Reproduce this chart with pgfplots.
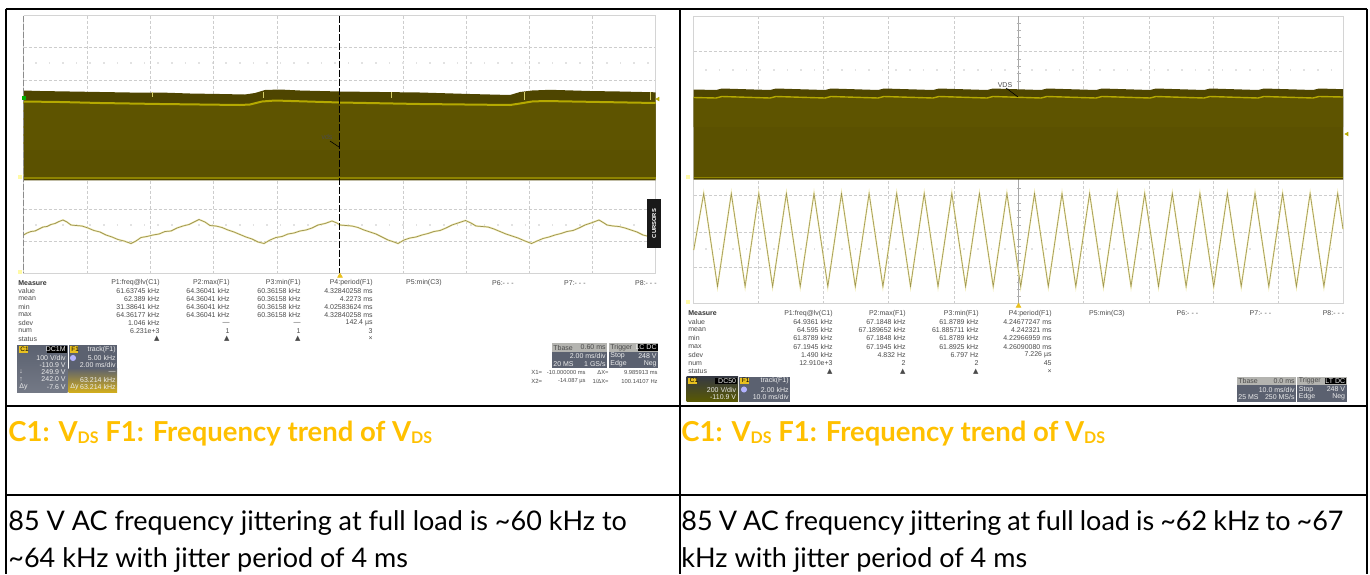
\documentclass[border=0pt]{standalone}
\usepackage{fontspec}
\usepackage{pgfplots}
\pgfplotsset{compat=1.18}
\setmainfont{Liberation Sans}
\newfontfamily\capfont{Lato}
\newfontfamily\symfont{DejaVu Sans}

\definecolor{bandtop}{HTML}{4E4500}
\definecolor{bandmid}{HTML}{5E5400}
\definecolor{bandlow}{HTML}{5B5100}
\definecolor{traceY}{HTML}{B5A900}
\definecolor{lowY}{HTML}{8F8400}
\definecolor{gridc}{HTML}{CDCDCD}
\definecolor{dotc}{HTML}{E2E2E2}
\definecolor{frame}{HTML}{D4D4D4}
\definecolor{capY}{HTML}{FFC000}
\definecolor{txt}{HTML}{4A4A4A}
\definecolor{boxb}{HTML}{5B6170}
\definecolor{boxl}{HTML}{B4B4B0}
\definecolor{tagY}{HTML}{E8C020}
\definecolor{halo}{HTML}{F0EBB4}
\definecolor{core}{HTML}{9C9350}

% one pixel of the reference is one axis unit
\newcommand{\rect}[5]{\addplot[draw=none,fill=#5] coordinates {(#1,#2)(#3,#2)(#3,#4)(#1,#4)} -- cycle;}
\newcommand{\tl}[3]{\node[anchor=west,inner sep=0,text=txt,font=\fontsize{3.5}{4}\selectfont] at (axis cs:#1,#2) {#3};}
\newcommand{\tr}[3]{\node[anchor=east,inner sep=0,text=txt,font=\fontsize{3.5}{4}\selectfont] at (axis cs:#1,#2) {#3};}
\newcommand{\tlx}[3]{\node[anchor=west,inner sep=0,text=txt,font=\fontsize{3}{4}\selectfont] at (axis cs:#1,#2) {#3};}
\newcommand{\trx}[3]{\node[anchor=east,inner sep=0,text=txt,font=\fontsize{2.9}{4}\selectfont] at (axis cs:#1,#2) {#3};}
\newcommand{\whl}[3]{\node[anchor=west,inner sep=0,text=white!85!gray,font=\fontsize{3.5}{4}\selectfont] at (axis cs:#1,#2) {#3};}
\newcommand{\whr}[3]{\node[anchor=east,inner sep=0,text=white!85!gray,font=\fontsize{3.5}{4}\selectfont] at (axis cs:#1,#2) {#3};}
\newcommand{\tri}{{\symfont ▲}}
\newcommand{\vds}{V{\fontsize{8}{9}\selectfont\raisebox{-1.3pt}{DS}}}
\newcommand{\capt}[1]{\node[anchor=base west,inner sep=0,text=capY,font=\capfont\bfseries\fontsize{13.75}{15}\selectfont] at (axis cs:#1,441) {C1: \vds{} F1: Frequency trend of \vds};}
\newcommand{\bodytxt}[3]{\node[anchor=base west,inner sep=0,font=\capfont\fontsize{13.5}{14}\selectfont] at (axis cs:#1,#2) {#3};}

\begin{document}
\begin{tikzpicture}
\path[use as bounding box] (0,0) rectangle (685pt,287pt);
\begin{axis}[
  hide axis, scale only axis, clip=false,
  width=685pt, height=287pt,
  xmin=0, xmax=1370, ymin=0, ymax=574,
  y dir=reverse,
  unbounded coords=jump,
]
% --- left scope grid
\addplot[gridc,line width=0.3pt,dash pattern=on 1.5pt off 1pt] coordinates {
 (87,15.7)(87,273)(nan,nan)(150,15.7)(150,273)(nan,nan)(213,15.7)(213,273)(nan,nan)(277,15.7)(277,273)(nan,nan)
 (403,15.7)(403,273)(nan,nan)(466,15.7)(466,273)(nan,nan)(529.6,15.7)(529.6,273)(nan,nan)(592.6,15.7)(592.6,273)(nan,nan)
 (23.5,47.5)(655.7,47.5)(nan,nan)(23.5,80)(655.7,80)(nan,nan)(23.5,209)(655.7,209)(nan,nan)(23.5,241.5)(655.7,241.5)};
\addplot[frame,line width=0.4pt] coordinates {(23.5,15.7)(655.7,15.7)(655.7,273)(23.5,273)(23.5,15.7)};
\addplot[dotc,line width=0.6pt,dash pattern=on 0.8pt off 6pt] coordinates {(35,63)(650,63)};
\addplot[dotc,line width=0.6pt,dash pattern=on 0.8pt off 6pt] coordinates {(35,225)(650,225)};
% --- left scope band
\addplot[draw=none,fill=bandtop] coordinates {(23.5,90.5)(40,91)(70,91.5)(100,92)(130,92.5)(160,92.5)(190,93.5)(220,94)(245,94.5)(255,93)(265,90)(280,89.5)(300,90.5)(340,91.5)(380,92)(420,92.5)(470,94)(510,95)(520,92)(532,90.5)(550,89.8)(590,91)(620,91.5)(655.5,92.3)(655.5,180.3)(23.5,180.3)} -- cycle;
\addplot[draw=none,fill=bandmid] coordinates {(23.5,101.5)(60,102)(100,103)(160,104)(240,105)(250,104.5)(262,101.5)(275,100.5)(340,102.5)(420,104)(510,105)(520,103.5)(532,101.5)(545,101)(600,102)(655.5,103)(655.5,150)(23.5,150)} -- cycle;
\rect{23.5}{150}{655.5}{178}{bandlow}
\addplot[traceY,line width=1pt] coordinates {(23.5,101.5)(60,102)(100,103)(160,104)(240,105)(250,104.5)(262,101.5)(275,100.5)(340,102.5)(420,104)(510,105)(520,103.5)(532,101.5)(545,101)(600,102)(655.5,103)};
\addplot[lowY,line width=0.6pt] coordinates {(23.5,178)(655.5,178)};
\addplot[traceY!60!white,line width=0.4pt] coordinates {(152,92)(152,97)(nan,nan)(263,92)(263,98)(nan,nan)(391.7,92)(391.7,98)(nan,nan)(524,92)(524,100)(nan,nan)(650,92)(650,100)};
% --- left F1 trace
\addplot[halo,line width=0.9pt] coordinates {(23.5,235)(27,233)(31,231.5)(35,231)(39,229)(43,227)(47,226.5)(51,224.5)(55,223.5)(59,221.5)(63,220)(67,222)(71,225)(76,225.5)(82,226)(88,228)(94,230.5)(100,232)(106,235)(112,237)(118,239.5)(124,241)(131,243.5)(136,241)(141,237.5)(147,236.5)(153,235)(159,234)(165,231.5)(171,231)(177,228)(183,226)(189,224.5)(194,222)(199,219.5)(205,222)(210,225.5)(216,226)(222,227.5)(228,230)(234,232)(240,234.5)(246,237)(252,239)(258,242)(264,243.5)(270,240)(276,237.5)(282,236.5)(288,234)(294,233)(300,231)(306,230)(312,228)(318,225)(325,223.5)(332,221)(337,223)(340,225)(346,225.5)(352,226)(358,227.5)(364,230)(370,232)(376,234)(382,237)(388,240)(394,242)(398,243.5)(404,240)(410,238)(416,237)(422,235)(428,233.5)(434,231.5)(440,230.5)(446,228)(452,225)(458,223)(465.5,220.5)(471,223)(476,226)(482,226.5)(488,227)(494,229)(500,231.5)(506,234)(512,236)(518,238)(525,241)(531.5,243.5)(537,241)(543,238.5)(549,237)(555,235)(561,233.5)(567,231.5)(573,230.5)(579,228)(585,225)(591,223)(599,220)(604,223)(607,225)(613,226)(619,226.5)(625,228)(631,230)(637,232)(643,235)(647,236)};
\addplot[core,line width=0.35pt] coordinates {(23.5,235)(27,233)(31,231.5)(35,231)(39,229)(43,227)(47,226.5)(51,224.5)(55,223.5)(59,221.5)(63,220)(67,222)(71,225)(76,225.5)(82,226)(88,228)(94,230.5)(100,232)(106,235)(112,237)(118,239.5)(124,241)(131,243.5)(136,241)(141,237.5)(147,236.5)(153,235)(159,234)(165,231.5)(171,231)(177,228)(183,226)(189,224.5)(194,222)(199,219.5)(205,222)(210,225.5)(216,226)(222,227.5)(228,230)(234,232)(240,234.5)(246,237)(252,239)(258,242)(264,243.5)(270,240)(276,237.5)(282,236.5)(288,234)(294,233)(300,231)(306,230)(312,228)(318,225)(325,223.5)(332,221)(337,223)(340,225)(346,225.5)(352,226)(358,227.5)(364,230)(370,232)(376,234)(382,237)(388,240)(394,242)(398,243.5)(404,240)(410,238)(416,237)(422,235)(428,233.5)(434,231.5)(440,230.5)(446,228)(452,225)(458,223)(465.5,220.5)(471,223)(476,226)(482,226.5)(488,227)(494,229)(500,231.5)(506,234)(512,236)(518,238)(525,241)(531.5,243.5)(537,241)(543,238.5)(549,237)(555,235)(561,233.5)(567,231.5)(573,230.5)(579,228)(585,225)(591,223)(599,220)(604,223)(607,225)(613,226)(619,226.5)(625,228)(631,230)(637,232)(643,235)(647,236)};
% --- left cursors and markers
\addplot[black!45,line width=0.5pt,dash pattern=on 3pt off 1pt] coordinates {(23.5,15.7)(23.5,273)};
\addplot[black,line width=0.6pt,dash pattern=on 3.5pt off 1pt] coordinates {(339.3,15.7)(339.3,273)};
\addplot[black,line width=0.3pt] coordinates {(330,141)(339,147)};
\addplot[draw=none,fill=black!90] coordinates {(646.7,199)(661,199)(661,248)(646.7,248)} -- cycle;
\addplot[only marks,mark=triangle*,mark size=1.3pt,color=tagY] coordinates {(340,276)};
\addplot[only marks,mark=square*,mark size=0.7pt,color=green!70!black] coordinates {(24,98)};
\addplot[only marks,mark=square*,mark size=0.9pt,color=yellow!35!white] coordinates {(20,177)(20,272)};
\addplot[only marks,mark=triangle*,mark size=0.9pt,mark options={rotate=90},color=traceY] coordinates {(658,99)};
\node[font=\fontsize{3.5}{4}\selectfont,text=black!70] at (axis cs:327,137) {vds};
\node[rotate=90,font=\bfseries\fontsize{2.9}{3}\selectfont,text=white] at (axis cs:654,223.5) {CURSORS};

% --- right scope grid
\addplot[gridc,line width=0.3pt,dash pattern=on 1.5pt off 1pt] coordinates {
 (758.7,16)(758.7,303)(nan,nan)(823.7,16)(823.7,303)(nan,nan)(888.7,16)(888.7,303)(nan,nan)(954,16)(954,303)(nan,nan)
 (1083,16)(1083,303)(nan,nan)(1149,16)(1149,303)(nan,nan)(1213.5,16)(1213.5,303)(nan,nan)(1278,16)(1278,303)(nan,nan)
 (693.7,51.5)(1343,51.5)(nan,nan)(693.7,232)(1343,232)(nan,nan)(693.7,267)(1343,267)(nan,nan)(693.7,195.5)(1343,195.5)};
\addplot[frame,line width=0.4pt] coordinates {(693.7,16)(1343,16)(1343,303)(693.7,303)(693.7,16)};
\addplot[black!35,line width=0.35pt] coordinates {(1018.5,16)(1018.5,303)};
\addplot[black!30,line width=0.3pt] coordinates {
 (1016.5,23)(1020.5,23)(nan,nan)(1016.5,30)(1020.5,30)(nan,nan)(1016.5,37)(1020.5,37)(nan,nan)(1016.5,45)(1020.5,45)(nan,nan)
 (1016.5,59)(1020.5,59)(nan,nan)(1016.5,66)(1020.5,66)(nan,nan)(1016.5,73)(1020.5,73)(nan,nan)(1016.5,81)(1020.5,81)(nan,nan)
 (1016.5,188)(1020.5,188)(nan,nan)(1016.5,203)(1020.5,203)(nan,nan)(1016.5,210)(1020.5,210)(nan,nan)(1016.5,217)(1020.5,217)(nan,nan)
 (1016.5,225)(1020.5,225)(nan,nan)(1016.5,239)(1020.5,239)(nan,nan)(1016.5,246)(1020.5,246)(nan,nan)(1016.5,253)(1020.5,253)(nan,nan)
 (1016.5,260)(1020.5,260)(nan,nan)(1016.5,275)(1020.5,275)(nan,nan)(1016.5,282)(1020.5,282)(nan,nan)(1016.5,289)(1020.5,289)(nan,nan)(1016.5,296)(1020.5,296)};
\addplot[dotc,line width=0.6pt,dash pattern=on 0.8pt off 6pt] coordinates {(705,70)(1335,70)};
\addplot[dotc,line width=0.6pt,dash pattern=on 0.8pt off 6pt] coordinates {(705,249)(1335,249)};
% --- right scope band
\addplot[draw=none,fill=bandtop] coordinates {(693.7,89.5)(716,90)(722,88.5)(770,90)(776,88.5)(825,90)(831,88.5)(878,90)(884,88.5)(933,90)(939,88.5)(987,90)(993,88.5)(1041,90)(1047,88.5)(1096,90)(1102,88.5)(1150,90)(1156,88.5)(1204,90)(1210,88.5)(1258,90)(1264,88.5)(1313,90)(1319,88.5)(1343,89.2)(1343,179.5)(693.7,179.5)} -- cycle;
\addplot[draw=none,fill=bandmid] coordinates {(693.7,97.5)(716,98)(722,96.5)(770,98)(776,96.5)(825,98)(831,96.5)(878,98)(884,96.5)(933,98)(939,96.5)(987,98)(993,96.5)(1041,98)(1047,96.5)(1096,98)(1102,96.5)(1150,98)(1156,96.5)(1204,98)(1210,96.5)(1258,98)(1264,96.5)(1313,98)(1319,96.5)(1343,97)(1343,127)(693.7,127)} -- cycle;
\rect{693.7}{127}{1343}{177}{bandlow}
\addplot[traceY,line width=0.7pt] coordinates {(693.7,97.5)(716,98)(722,96.5)(770,98)(776,96.5)(825,98)(831,96.5)(878,98)(884,96.5)(933,98)(939,96.5)(987,98)(993,96.5)(1041,98)(1047,96.5)(1096,98)(1102,96.5)(1150,98)(1156,96.5)(1204,98)(1210,96.5)(1258,98)(1264,96.5)(1313,98)(1319,96.5)(1343,97)};
\addplot[lowY,line width=0.5pt] coordinates {(693.7,177)(1343,177)};
% --- right F1 trace
\addplot[halo,line width=0.8pt] coordinates {(693.7,250)(703.7,193.5)(717.5,286.5)(731.3,193.5)(745.1,286.5)(758.8,193.5)(772.6,286.5)(786.4,193.5)(800.2,286.5)(814,193.5)(827.8,286.5)(841.5,193.5)(855.3,286.5)(869.1,193.5)(882.9,286.5)(896.7,193.5)(910.5,286.5)(924.2,193.5)(938,286.5)(951.8,193.5)(965.6,286.5)(979.4,193.5)(993.2,286.5)(1006.9,193.5)(1020.7,286.5)(1034.5,193.5)(1048.3,286.5)(1062,193.5)(1075.8,286.5)(1089.6,193.5)(1103.4,286.5)(1117.2,193.5)(1131,286.5)(1144.7,193.5)(1158.5,286.5)(1172.3,193.5)(1186.1,286.5)(1199.9,193.5)(1213.7,286.5)(1227.4,193.5)(1241.2,286.5)(1255,193.5)(1268.8,286.5)(1282.6,193.5)(1296.4,286.5)(1310.1,193.5)(1323.9,286.5)(1337.7,193.5)(1343,229)};
\addplot[core,line width=0.3pt] coordinates {(693.7,250)(703.7,193.5)(717.5,286.5)(731.3,193.5)(745.1,286.5)(758.8,193.5)(772.6,286.5)(786.4,193.5)(800.2,286.5)(814,193.5)(827.8,286.5)(841.5,193.5)(855.3,286.5)(869.1,193.5)(882.9,286.5)(896.7,193.5)(910.5,286.5)(924.2,193.5)(938,286.5)(951.8,193.5)(965.6,286.5)(979.4,193.5)(993.2,286.5)(1006.9,193.5)(1020.7,286.5)(1034.5,193.5)(1048.3,286.5)(1062,193.5)(1075.8,286.5)(1089.6,193.5)(1103.4,286.5)(1117.2,193.5)(1131,286.5)(1144.7,193.5)(1158.5,286.5)(1172.3,193.5)(1186.1,286.5)(1199.9,193.5)(1213.7,286.5)(1227.4,193.5)(1241.2,286.5)(1255,193.5)(1268.8,286.5)(1282.6,193.5)(1296.4,286.5)(1310.1,193.5)(1323.9,286.5)(1337.7,193.5)(1343,229)};
\addplot[black,line width=0.3pt] coordinates {(1006,88)(1018,97)};
\addplot[only marks,mark=triangle*,mark size=1.3pt,color=tagY] coordinates {(1018.5,306)};
\addplot[only marks,mark=square*,mark size=0.9pt,color=yellow!35!white] coordinates {(688,177)(688,302)};
\addplot[only marks,mark=triangle*,mark size=0.9pt,mark options={rotate=90},color=traceY] coordinates {(1347,134)};
\node[font=\fontsize{3.5}{4}\selectfont,text=black!70] at (axis cs:1005,85) {VDS};

% --- left dialog boxes
\addplot[draw=none,top color=boxb,bottom color=boxb!85!white] coordinates {(17,345)(67.5,345)(67.5,392)(17,392)} -- cycle;
\rect{68.5}{345}{117}{392}{boxb}
\addplot[draw=none,top color=boxb,bottom color=tagY!90!black] coordinates {(68.5,368)(117,368)(117,392)(68.5,392)} -- cycle;
\rect{18.5}{346}{28}{353}{tagY}
\rect{69.5}{346}{78}{353}{tagY}
\rect{47}{346}{66.5}{353}{black}
\rect{551.7}{343}{607}{352}{boxl}
\rect{551.7}{352}{607}{368}{boxb}
\rect{608.7}{343}{658}{352}{boxl}
\rect{608.7}{352}{658}{368}{boxb}
\rect{638}{344}{657.5}{351}{black}
% --- right dialog boxes
\addplot[draw=none,top color=boxb!60!black,bottom color=olive!70!black] coordinates {(686.7,376.7)(738,376.7)(738,401.7)(686.7,401.7)} -- cycle;
\rect{739}{376.7}{790}{401.7}{boxb}
\rect{688}{377.5}{697}{384}{tagY}
\rect{740}{377.5}{749}{384}{tagY}
\rect{715}{378}{737}{384}{black}
\rect{1236.8}{376.7}{1296}{384.5}{boxl}
\rect{1236.8}{384.5}{1296}{401.7}{boxb}
\rect{1297}{376.7}{1347}{384.5}{boxl}
\rect{1297}{384.5}{1347}{401.7}{boxb}
\rect{1325}{378}{1346}{384}{black}

% --- table rules
\addplot[black,line width=1pt] coordinates {
 (5.5,9)(1367,9)(nan,nan)(5.5,405.5)(1367,405.5)(nan,nan)(5.5,494.5)(1367,494.5)(nan,nan)
 (5.5,8.5)(5.5,574)(nan,nan)(679.5,8.5)(679.5,574)(nan,nan)(1367,8.5)(1367,574)};

% --- left measure table
\node[anchor=west,inner sep=0,text=black!80,font=\bfseries\fontsize{3.5}{4}\selectfont] at (axis cs:18,283) {Measure};
\tl{18}{291}{value}\tl{18}{299}{mean}\tl{18}{307}{min}\tl{18}{315}{max}\tl{18}{323}{sdev}\tl{18}{331}{num}\tl{18}{339}{status}
\tr{160}{283}{P1:freq@lv(C1)}\tr{230}{283}{P2:max(F1)}\tr{301}{283}{P3:min(F1)}\tr{373}{283}{P4:period(F1)}\tr{442}{283}{P5:min(C3)}\tr{514}{283}{P6:- - -}\tr{586}{283}{P7:- - -}\tr{657}{283}{P8:- - -}
\tr{160}{291}{61.63745 kHz}\tr{230}{291}{64.36041 kHz}\tr{301}{291}{60.36158 kHz}\tr{373}{291}{4.32840258 ms}
\tr{160}{299}{62.389 kHz}\tr{230}{299}{64.36041 kHz}\tr{301}{299}{60.36158 kHz}\tr{373}{299}{4.2273 ms}
\tr{160}{307}{31.38641 kHz}\tr{230}{307}{64.36041 kHz}\tr{301}{307}{60.36158 kHz}\tr{373}{307}{4.02583624 ms}
\tr{160}{315}{64.36177 kHz}\tr{230}{315}{64.36041 kHz}\tr{301}{315}{60.36158 kHz}\tr{373}{315}{4.32840258 ms}
\tr{160}{323}{1.046 kHz}\tr{230}{323}{---}\tr{301}{323}{---}\tr{373}{323}{142.4 µs}
\tr{160}{331}{6.231e+3}\tr{230}{331}{1}\tr{301}{331}{1}\tr{373}{331}{3}
\tr{160}{339}{\tri}\tr{230}{339}{\tri}\tr{301}{339}{\tri}\tr{373}{339}{×}
% --- left box text
\node[anchor=west,inner sep=0,font=\fontsize{3.2}{4}\selectfont,text=black] at (axis cs:20,349.5) {C1};
\whr{66}{349.5}{DC1M}
\whr{66}{358}{100 V/div}\whr{66}{365}{-110.9 V}\whl{19}{372}{↓}\whr{66}{372}{249.9 V}\whl{19}{379.5}{↑}\whr{66}{379.5}{242.0 V}\whl{19}{387}{Δy}\whr{66}{387}{-7.6 V}
\node[anchor=west,inner sep=0,font=\fontsize{3.2}{4}\selectfont,text=black] at (axis cs:71,349.5) {F1};
\whr{116}{349.5}{track(F1)}\whr{116}{358}{5.00 kHz}\whr{116}{365}{2.00 ms/div}\whr{116}{372}{---}\whr{116}{379.5}{63.214 kHz}\whl{70}{387}{Δy}\whr{116}{387}{63.214 kHz}
\addplot[only marks,mark=*,mark size=1.3pt,color=blue!30!white] coordinates {(73,358)};
\tl{553}{347.5}{Tbase}\tr{606}{347.5}{0.60 ms}\whr{606}{356}{2.00 ms/div}\whl{553}{364}{20 MS}\whr{606}{364}{1 GS/s}
\tl{610}{347.5}{Trigger}\whr{657}{347.5}{LC DC}\whl{610}{356}{Stop}\whr{657}{356}{248 V}\whl{610}{364}{Edge}\whr{657}{364}{Neg}
\tlx{531}{372}{X1=}\trx{586}{372}{-10.000000 ms}\trx{609}{372}{ΔX=}\trx{658}{372}{9.985913 ms}
\tlx{531}{381}{X2=}\trx{586}{381}{-14.087 µs}\trx{609}{381}{1/ΔX=}\trx{658}{381}{100.14107 Hz}

% --- right measure table
\node[anchor=west,inner sep=0,text=black!80,font=\bfseries\fontsize{3.5}{4}\selectfont] at (axis cs:688,313.3) {Measure};
\tl{688}{321.7}{value}\tl{688}{330}{mean}\tl{688}{338.3}{min}\tl{688}{346.7}{max}\tl{688}{355}{sdev}\tl{688}{363.3}{num}\tl{688}{371.7}{status}
\tr{833}{313.3}{P1:freq@lv(C1)}\tr{906}{313.3}{P2:max(F1)}\tr{979}{313.3}{P3:min(F1)}\tr{1052}{313.3}{P4:period(F1)}\tr{1125}{313.3}{P5:min(C3)}\tr{1198.5}{313.3}{P6:- - -}\tr{1271.5}{313.3}{P7:- - -}\tr{1344.6}{313.3}{P8:- - -}
\tr{833}{321.7}{64.9361 kHz}\tr{906}{321.7}{67.1848 kHz}\tr{979}{321.7}{61.8789 kHz}\tr{1052}{321.7}{4.24677247 ms}
\tr{833}{330}{64.595 kHz}\tr{906}{330}{67.189652 kHz}\tr{979}{330}{61.885711 kHz}\tr{1052}{330}{4.242321 ms}
\tr{833}{338.3}{61.8789 kHz}\tr{906}{338.3}{67.1848 kHz}\tr{979}{338.3}{61.8789 kHz}\tr{1052}{338.3}{4.22966959 ms}
\tr{833}{346.7}{67.1945 kHz}\tr{906}{346.7}{67.1945 kHz}\tr{979}{346.7}{61.8925 kHz}\tr{1052}{346.7}{4.26090080 ms}
\tr{833}{355}{1.490 kHz}\tr{906}{355}{4.832 Hz}\tr{979}{355}{6.797 Hz}\tr{1052}{355}{7.226 µs}
\tr{833}{363.3}{12.910e+3}\tr{906}{363.3}{2}\tr{979}{363.3}{2}\tr{1052}{363.3}{45}
\tr{833}{371.7}{\tri}\tr{906}{371.7}{\tri}\tr{979}{371.7}{\tri}\tr{1052}{371.7}{×}
% --- right box text
\node[anchor=west,inner sep=0,font=\fontsize{3.2}{4}\selectfont,text=black] at (axis cs:689.5,380.7) {C1};
\whr{736.5}{381}{DC50}\whr{736.5}{389.5}{200 V/div}\whr{736.5}{397}{-110.9 V}
\node[anchor=west,inner sep=0,font=\fontsize{3.2}{4}\selectfont,text=black] at (axis cs:741.5,380.7) {F1};
\whr{789}{381}{track(F1)}\whr{789}{389.5}{2.00 kHz}\whr{789}{397}{10.0 ms/div}
\addplot[only marks,mark=*,mark size=1.3pt,color=blue!30!white] coordinates {(744,389.5)};
\tl{1238}{380.7}{Tbase}\tr{1295}{380.7}{0.0 ms}\whr{1295}{389.5}{10.0 ms/div}\whl{1238}{397}{25 MS}\whr{1295}{397}{250 MS/s}
\tl{1298.5}{380.7}{Trigger}\whr{1345.5}{381}{LT DC}\whl{1298.5}{389.5}{Stop}\whr{1345.5}{389.5}{248 V}\whl{1298.5}{397}{Edge}\whr{1345.5}{397}{Neg}

% --- caption rows
\capt{8}
\capt{681}
\bodytxt{8}{530}{85 V AC frequency jittering at full load is \char126 60 kHz to}
\bodytxt{8}{567}{\char126 64 kHz with jitter period of 4 ms}
\bodytxt{681}{530}{\spaceskip=3.03pt 85 V AC frequency jittering at full load is \char126 62 kHz to \char126 67}
\bodytxt{681}{567}{kHz with jitter period of 4 ms}
\end{axis}
\end{tikzpicture}
\end{document}
